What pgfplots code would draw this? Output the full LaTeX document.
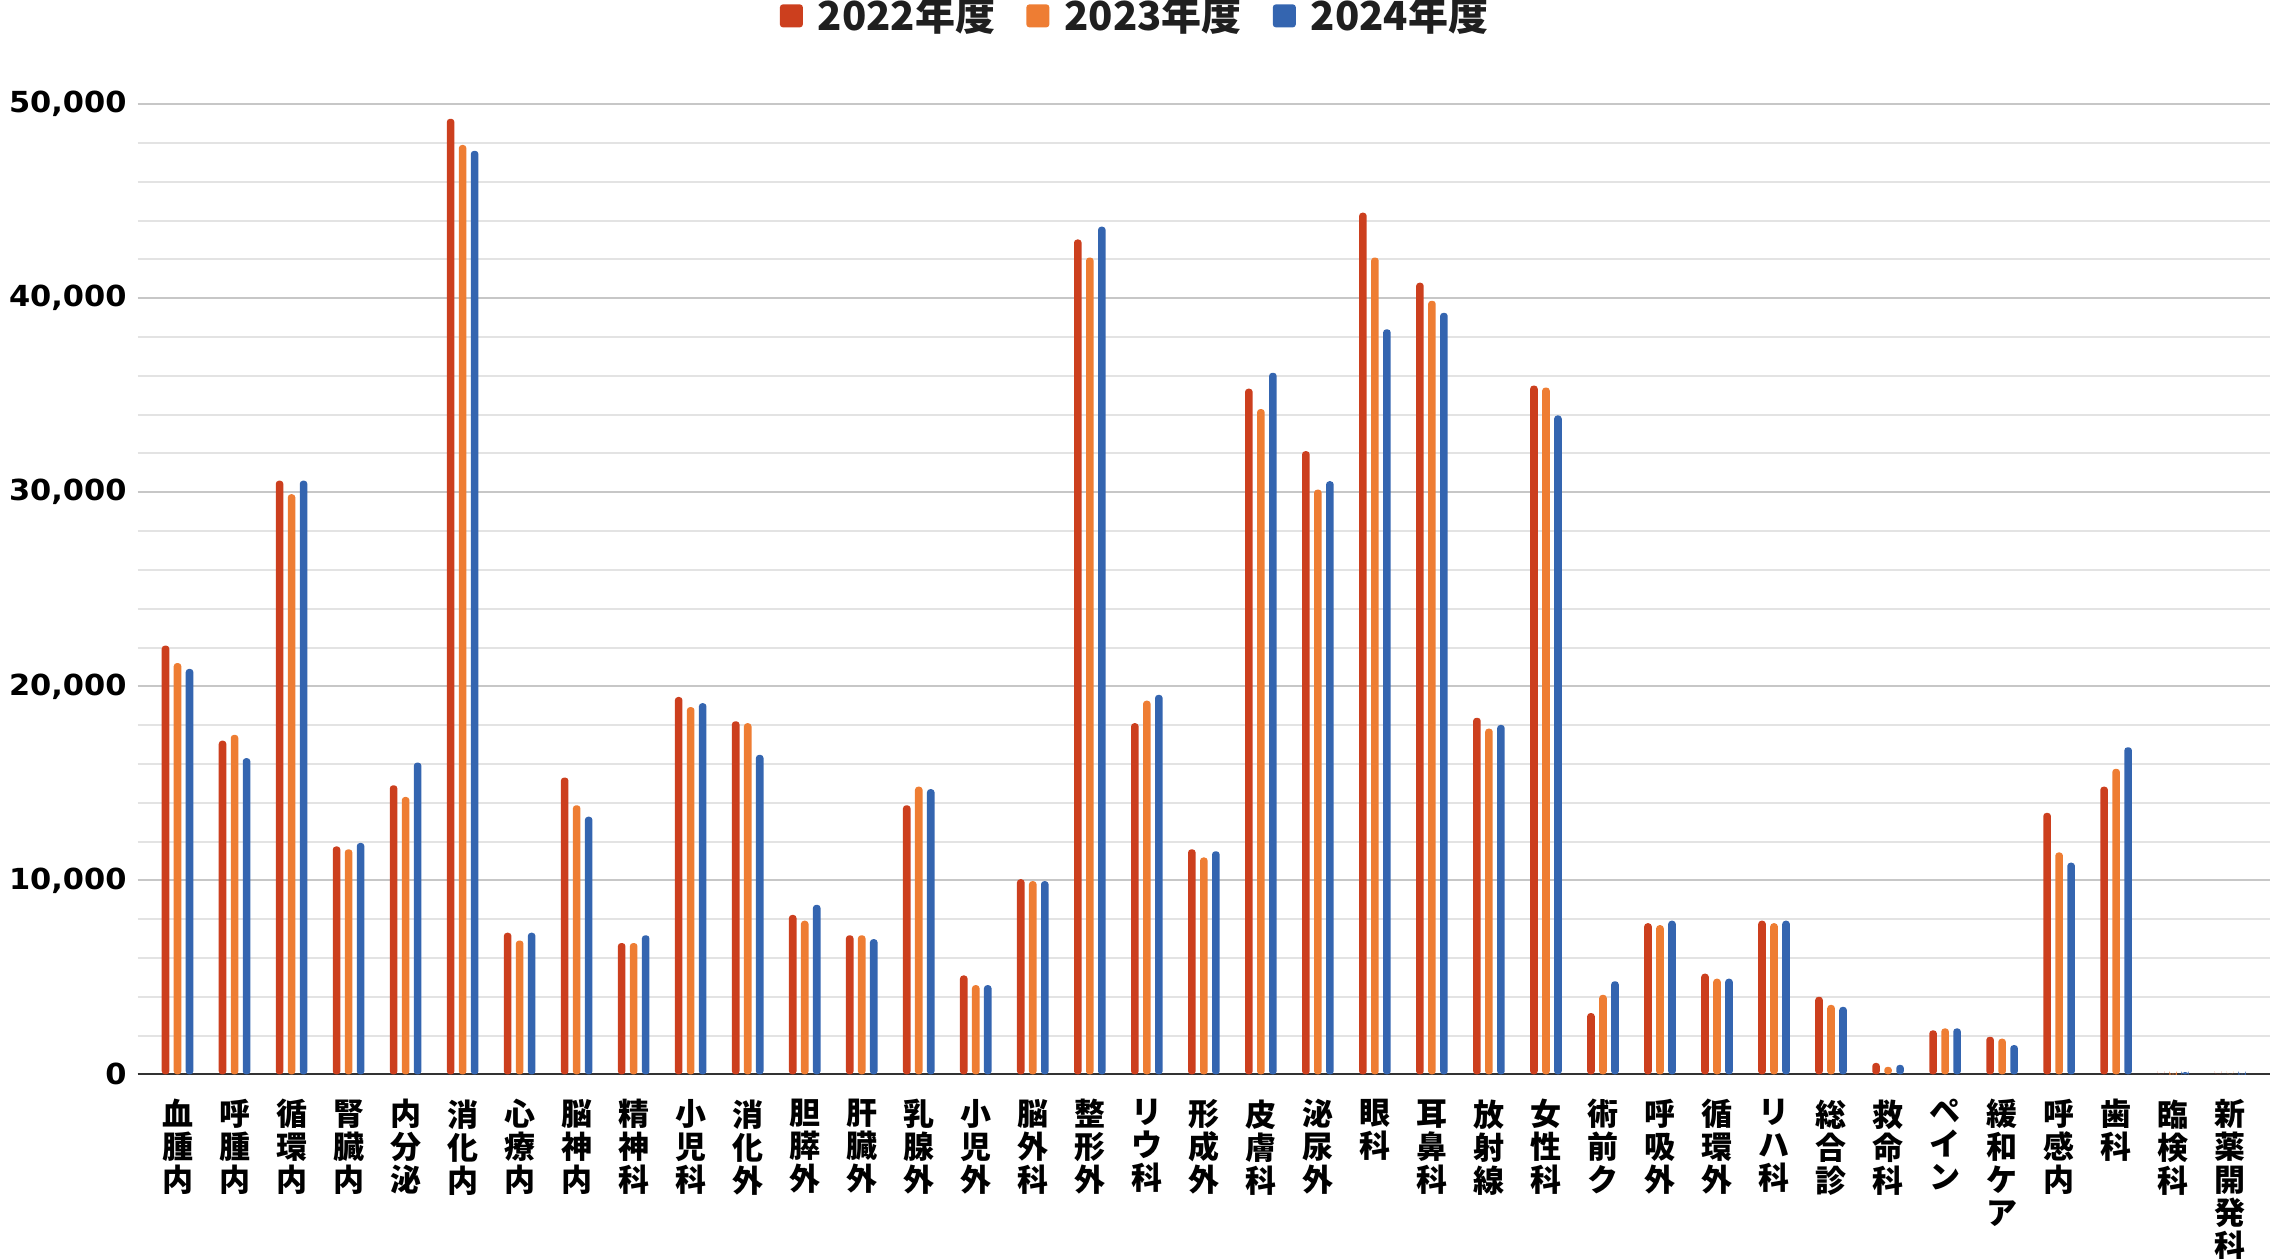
\documentclass[border=0pt]{standalone}
\usepackage{fontspec}
\usepackage{pgfplots}
\pgfplotsset{compat=1.18}
\newfontfamily\cjk{Noto Sans CJK JP}
\newfontfamily\numfont[FakeStretch=1.05]{DejaVu Sans}
\definecolor{cA}{HTML}{CC3F1E}
\definecolor{cB}{HTML}{EE7D33}
\definecolor{cC}{HTML}{3465B0}
\pgfplotsset{/pgfplots/ybar legend/.style={/pgfplots/legend image code/.code={\fill[##1, rounded corners=1.5pt] (0pt,-6.2pt) rectangle (11.5pt,5.3pt);}}}
\begin{document}
\begin{tikzpicture}
\begin{axis}[
  scale only axis, width=1066pt, height=485pt,
  at={(0pt,0pt)}, anchor=south west,
  xmin=-0.7, xmax=36.7, ymin=0, ymax=50000,
  ybar=2.2pt, bar width=3.8pt,
  axis x line*=bottom, axis y line*=left,
  x axis line style={draw=black!80, line width=1pt},
  y axis line style={draw=none},
  major tick length=0pt, minor tick length=0pt,
  ytick={0,10000,...,50000}, minor y tick num=4,
  ymajorgrids, yminorgrids,
  major grid style={draw=black!22, line width=1pt},
  minor grid style={draw=black!11, line width=1pt},
  scaled y ticks=false,
  /pgf/number format/.cd, 1000 sep={,}, assume math mode=true, /pgfplots/.cd,
  yticklabel style={font=\numfont\bfseries\fontsize{14.5}{16}\selectfont, xshift=-2pt},
  xtick={0,...,36},
  xticklabels={{血\\腫\\内},{呼\\腫\\内},{循\\環\\内},{腎\\臓\\内},{内\\分\\泌},{消\\化\\内},{心\\療\\内},{脳\\神\\内},{精\\神\\科},{小\\児\\科},{消\\化\\外},{胆\\膵\\外},{肝\\臓\\外},{乳\\腺\\外},{小\\児\\外},{脳\\外\\科},{整\\形\\外},{リ\\ウ\\科},{形\\成\\外},{皮\\膚\\科},{泌\\尿\\外},{眼\\科},{耳\\鼻\\科},{放\\射\\線},{女\\性\\科},{術\\前\\ク},{呼\\吸\\外},{循\\環\\外},{リ\\ハ\\科},{総\\合\\診},{救\\命\\科},{ペ\\イ\\ン},{緩\\和\\ケ\\ア},{呼\\感\\内},{歯\\科},{臨\\検\\科},{新\\薬\\開\\発\\科}},
  xticklabel style={font=\cjk\bfseries\fontsize{15.5}{16.5}\selectfont, align=center, anchor=north, yshift=-9pt},
  legend columns=3,
  legend style={at={(0.468,1.092)}, anchor=center, draw=none, fill=none,
    font=\cjk\bfseries\fontsize{20}{23}\selectfont, text=black!88,
    nodes={inner sep=1.5pt},
    /tikz/every odd column/.append style={column sep=6pt},
    /tikz/every even column/.append style={column sep=14pt}},
  every axis plot/.append style={draw=none, rounded corners=1.6pt},
]
\addplot[fill=cA] coordinates {(0,22100)(1,17200)(2,30600)(3,11750)(4,14900)(5,49250)(6,7300)(7,15300)(8,6770)(9,19450)(10,18200)(11,8220)(12,7170)(13,13870)(14,5100)(15,10060)(16,43030)(17,18100)(18,11600)(19,35340)(20,32120)(21,44410)(22,40800)(23,18380)(24,35500)(25,3160)(26,7790)(27,5190)(28,7920)(29,4000)(30,590)(31,2270)(32,1940)(33,13480)(34,14830)(35,0)(36,0)};
\addplot[fill=cB] coordinates {(0,21200)(1,17500)(2,29900)(3,11600)(4,14300)(5,47900)(6,6900)(7,13870)(8,6770)(9,18930)(10,18100)(11,7920)(12,7170)(13,14830)(14,4600)(15,9960)(16,42100)(17,19260)(18,11180)(19,34290)(20,30140)(21,42100)(22,39870)(23,17820)(24,35400)(25,4100)(26,7690)(27,4930)(28,7790)(29,3580)(30,390)(31,2370)(32,1840)(33,11440)(34,15750)(35,40)(36,0)};
\addplot[fill=cC] coordinates {(0,20900)(1,16300)(2,30600)(3,11930)(4,16070)(5,47600)(6,7300)(7,13280)(8,7170)(9,19130)(10,16470)(11,8740)(12,6970)(13,14700)(14,4600)(15,9960)(16,43690)(17,19560)(18,11500)(19,36160)(20,30570)(21,38400)(22,39250)(23,18010)(24,33960)(25,4800)(26,7920)(27,4930)(28,7920)(29,3480)(30,490)(31,2370)(32,1510)(33,10910)(34,16860)(35,120)(36,40)};
\legend{2022年度,2023年度,2024年度}
\end{axis}
\pgfresetboundingbox
\path[use as bounding box] (-68.8pt,-91.9pt) rectangle (1066pt,537.1pt);
\end{tikzpicture}
\end{document}
